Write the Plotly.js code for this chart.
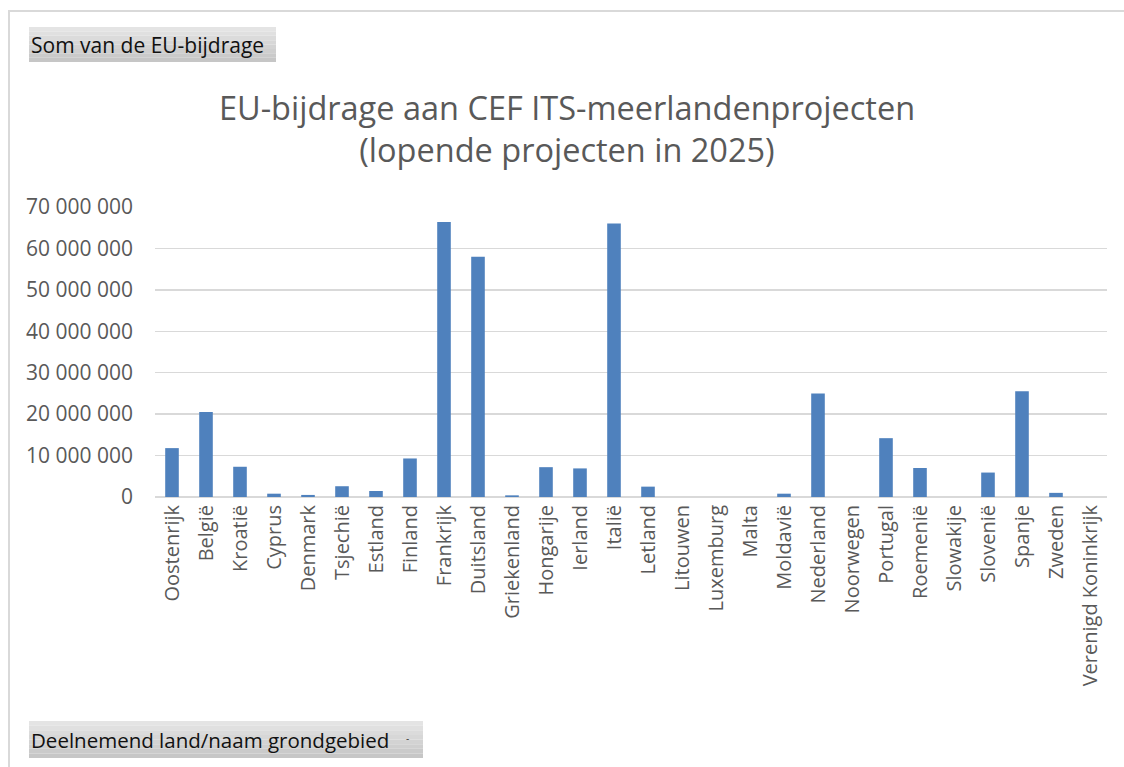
<!DOCTYPE html>
<html>
<head>
<meta charset="utf-8">
<script src="https://cdn.plot.ly/plotly-3.0.1.min.js"></script>
<style>
  html, body { margin: 0; padding: 0; background: #ffffff; overflow: hidden; }
  #frame { position: absolute; left: 8px; top: 10px; width: 1114px; height: 755px;
           border-left: 2px solid #d9d9d9; border-top: 2px solid #d9d9d9; }
  #chart { width: 1114px; height: 755px; }
</style>
</head>
<body>
<div id="frame"><div id="chart"></div></div>
<script>
const countries = ["Oostenrijk", "België", "Kroatië", "Cyprus", "Denmark", "Tsjechië", "Estland",
  "Finland", "Frankrijk", "Duitsland", "Griekenland", "Hongarije", "Ierland", "Italië", "Letland",
  "Litouwen", "Luxemburg", "Malta", "Moldavië", "Nederland", "Noorwegen", "Portugal", "Roemenië",
  "Slowakije", "Slovenië", "Spanje", "Zweden", "Verenigd Koninkrijk"];
const euContribution = [11800000, 20500000, 7300000, 800000, 500000, 2600000, 1450000,
  9300000, 66350000, 58000000, 400000, 7200000, 6900000, 66000000, 2500000,
  0, 0, 0, 800000, 25000000, 0, 14200000, 7000000,
  0, 5900000, 25500000, 1000000, 0];
const yTicks = [0, 10000000, 20000000, 30000000, 40000000, 50000000, 60000000, 70000000];

const chartTitle = "EU-bijdrage aan CEF ITS-meerlandenprojecten<br>(lopende projecten in 2025)";
const valueButton = "Som van de EU-bijdrage";
const axisButton = "Deelnemend land/naam grondgebied";

// layout geometry (page pixels -> paper coordinates)
const W = 1114, H = 755, ML = 145, MR = 17, MT = 195, MB = 270;
const OX = 10, OY = 12;
const pw = W - ML - MR, ph = H - MT - MB;
const px = x => (x - OX - ML) / pw;
const py = y => (H - MB - (y - OY)) / ph;

function button(x0, y0, x1, y1) {
  const shapes = [];
  const n = 8;
  for (let i = 0; i < n; i++) {
    const t = i / (n - 1);
    const c = Math.round(228 - t * 30);
    shapes.push({type: 'rect', xref: 'paper', yref: 'paper',
      x0: px(x0), x1: px(x1),
      y0: py(y0 + (y1 - y0) * i / n), y1: py(y0 + (y1 - y0) * (i + 1) / n),
      fillcolor: `rgb(${c},${c},${c})`, line: {width: 0}, layer: 'above'});
  }
  return shapes;
}

const shapes = [].concat(button(29, 27, 276, 62), button(29, 721, 423, 758));

const font = "'Open Sans', 'Noto Sans', sans-serif";

const data = [{
  type: 'bar',
  x: countries,
  y: euContribution,
  marker: {color: '#4f81bd', line: {width: 0}},
  hoverinfo: 'x+y'
}];

const layout = {
  width: W, height: H,
  margin: {l: ML, r: MR, t: MT, b: MB, pad: 0},
  paper_bgcolor: '#ffffff', plot_bgcolor: '#ffffff',
  separators: ', ',
  showlegend: false,
  bargap: 0.6,
  font: {family: font, color: '#595959', size: 18},
  title: {
    text: chartTitle,
    font: {family: font, size: 32.5, color: '#595959'},
    xref: 'container', x: 0.5, xanchor: 'center',
    yref: 'container', y: 1 - 108 / H, yanchor: 'top'
  },
  xaxis: {
    type: 'category',
    tickangle: -90,
    tickfont: {family: font, size: 20, color: '#595959'},
    showgrid: false, zeroline: false,
    showline: false, ticks: '',
    ticklabelstandoff: 3,
    fixedrange: true
  },
  yaxis: {
    range: [0, 70000000],
    tickvals: yTicks,
    tickformat: ',d',
    tickfont: {family: font, size: 21, color: '#595959'},
    showgrid: true, gridcolor: '#d9d9d9', gridwidth: 1.3,
    zeroline: true, zerolinecolor: '#d9d9d9', zerolinewidth: 2,
    showline: false, ticks: '',
    ticklabelstandoff: 21,
    fixedrange: true
  },
  shapes: shapes,
  annotations: [
    {xref: 'paper', yref: 'paper', x: px(29), y: py(44.5), xanchor: 'left', yanchor: 'middle',
     text: valueButton, showarrow: false, font: {family: font, size: 21, color: '#111111'}},
    {xref: 'paper', yref: 'paper', x: px(29), y: py(739.5), xanchor: 'left', yanchor: 'middle',
     text: axisButton, showarrow: false, font: {family: font, size: 20.5, color: '#111111'}},
    {xref: 'paper', yref: 'paper', x: px(407), y: py(738), xanchor: 'center', yanchor: 'middle',
     text: '-', showarrow: false, font: {family: font, size: 10, color: '#333333'}}
  ]
};

Plotly.newPlot('chart', data, layout, {displayModeBar: false, staticPlot: true});
</script>
</body>
</html>
